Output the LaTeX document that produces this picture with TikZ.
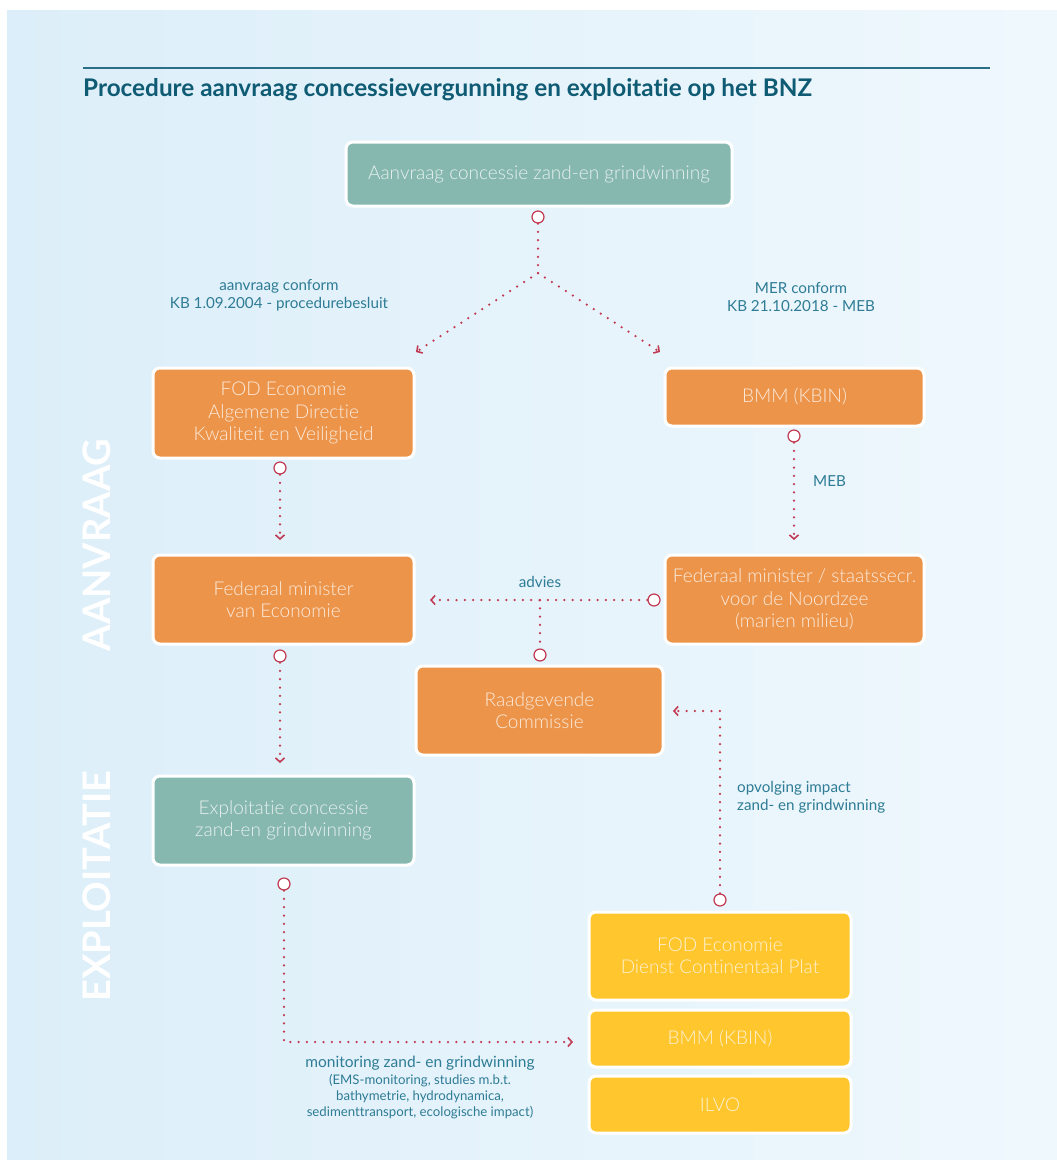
\documentclass[tikz,border=0pt]{standalone}
\usepackage{fontspec}
\setmainfont{Lato}[UprightFont=* Light, BoldFont=* Bold, Ligatures={NoCommon,NoRare}]
\newfontfamily\lblfont{Lato}[Ligatures={NoCommon,NoRare}]
\usetikzlibrary{arrows.meta,calc}
\definecolor{bgL}{HTML}{DCEEF9}
\definecolor{bgR}{HTML}{EFF8FD}
\definecolor{teal1}{HTML}{86B8B0}
\definecolor{orng}{HTML}{EC944A}
\definecolor{yel}{HTML}{FFC62E}
\definecolor{dotred}{HTML}{C23A52}
\definecolor{lbl}{HTML}{2E7C95}
\definecolor{ttl}{HTML}{0E5B73}
\definecolor{ttlline}{HTML}{2A6F86}
\definecolor{txtO}{HTML}{FBEBDD}
\definecolor{txtT}{HTML}{E8F1EF}
\definecolor{txtY}{HTML}{FDF1D2}
\tikzset{
  box/.style={draw=white, line width=3pt, rounded corners=7pt, align=center, inner sep=0pt, font=\fontsize{19}{22.5}\selectfont},
  tbox/.style={box, fill=teal1, text=txtT},
  obox/.style={box, fill=orng, text=txtO},
  ybox/.style={box, fill=yel, text=txtY},
  conn/.style={draw=dotred, line width=2.5pt, line cap=round, dash pattern=on 0pt off 8.3pt},
  arr/.style={conn, -{Straight Barb[length=4pt,width=9pt,line width=1.6pt]}},
  ring/.style={circle, draw=dotred, fill=white, line width=1.2pt, minimum size=12pt, inner sep=0pt},
  lab/.style={text=lbl, font=\lblfont\fontsize{15.2}{18}\selectfont, align=center, inner sep=0pt},
  sidelab/.style={rotate=90, text=white, font=\fontsize{38}{40}\selectfont\bfseries, inner sep=0pt}
}
\begin{document}
\begin{tikzpicture}[x=1pt,y=-1pt]
\useasboundingbox (0,0) rectangle (1057,1160);
\fill[white] (0,0) rectangle (1057,1160);
\shade[left color=bgL, right color=bgR] (7,10) rectangle (1057,1160);

% title
\coordinate (tl1) at (83,68);
\coordinate (tl2) at (990,68);
\draw[ttlline, line width=1.8pt] (tl1) -- (tl2);
\node[anchor=base west, text=ttl, font=\fontsize{24.3}{28}\selectfont\bfseries, inner sep=0pt] (title) at (83,96) {Procedure aanvraag concessievergunning en exploitatie op het BNZ};

% side labels
\node[sidelab] (sa) at (97,545) {AANVRAAG};
\node[sidelab] (se) at (97,886) {EXPLOITATIE};

% boxes
\node[tbox, minimum width=386pt, minimum height=64pt] (A) at (539,174) {Aanvraag concessie zand-en grindwinning};
\node[obox, minimum width=261pt, minimum height=90pt] (FOD1) at (283.5,413) {FOD Economie\\Algemene Directie\\Kwaliteit en Veiligheid};
\node[obox, minimum width=259pt, minimum height=58pt] (BMM1) at (794.5,397) {BMM (KBIN)};
\node[obox, minimum width=261pt, minimum height=89pt] (FME) at (283.5,599.5) {Federaal minister\\van Economie};
\node[obox, minimum width=259pt, minimum height=89pt] (FMN) at (794.5,599.5) {Federaal minister / staatssecr.\\voor de Noordzee\\(marien milieu)};
\node[obox, minimum width=247pt, minimum height=89pt] (RC) at (539.5,710.5) {Raadgevende\\Commissie};
\node[tbox, minimum width=261pt, minimum height=89pt] (EX) at (283.5,820.5) {Exploitatie concessie\\zand-en grindwinning};
\node[ybox, minimum width=262pt, minimum height=88pt] (FOD2) at (720,956) {FOD Economie\\Dienst Continentaal Plat};
\node[ybox, minimum width=262pt, minimum height=57pt] (BMM2) at (720,1038.5) {BMM (KBIN)};
\node[ybox, minimum width=262pt, minimum height=57pt] (ILVO) at (720,1104.5) {ILVO};

% rings
\node[ring] (c1) at (538,217) {};
\node[ring] (c2) at (280,468) {};
\node[ring] (c3) at (794,436) {};
\node[ring] (c4) at (654,600) {};
\node[ring] (c5) at (540,655) {};
\node[ring] (c6) at (280,656) {};
\node[ring] (c7) at (720,900) {};
\node[ring] (c8) at (284,884) {};

% helper coordinates
\coordinate (j1) at (538,273);
\coordinate (tL) at (416,352);
\coordinate (tR) at (660,352);
\coordinate (t2) at (280,540);
\coordinate (t3) at (794,540);
\coordinate (t4) at (430,600);
\coordinate (j2) at (540,600);
\coordinate (t6) at (280,763);
\coordinate (k7) at (720,711);
\coordinate (t7) at (673,711);
\coordinate (k8) at (284,1042);
\coordinate (t8) at (573,1042);

% connectors
\draw[conn] (c1) -- (j1);
\draw[arr] (j1) -- (tL);
\draw[arr] (j1) -- (tR);
\draw[arr] (c2) -- (t2);
\draw[arr] (c3) -- (t3);
\draw[arr] (c4) -- (t4);
\draw[conn] (j2) -- (c5);
\draw[arr] (c6) -- (t6);
\draw[arr] (c7) -- (k7) -- (t7);
\draw[arr] (c8) -- (k8) -- (t8);

% labels
\node[lab] (l1) at (279,295) {aanvraag conform\\KB 1.09.2004 - procedurebesluit};
\node[lab] (l2) at (801,297) {MER conform\\KB 21.10.2018 - MEB};
\node[lab, anchor=west] (l3) at (813,481) {MEB};
\node[lab] (l4) at (540,582) {advies};
\node[lab, anchor=west, align=left] (l5) at (737,797) {opvolging impact\\zand- en grindwinning};
\node[lab, anchor=north] (l6) at (420,1056) {{\fontsize{15.5}{18}\selectfont monitoring zand- en grindwinning}\\[-1pt]{\fontsize{13.2}{16}\selectfont (EMS-monitoring, studies m.b.t.}\\[-2pt]{\fontsize{13.2}{16}\selectfont bathymetrie, hydrodynamica,}\\[-2pt]{\fontsize{13.2}{16}\selectfont sedimenttransport, ecologische impact)}};
\end{tikzpicture}
\end{document}
